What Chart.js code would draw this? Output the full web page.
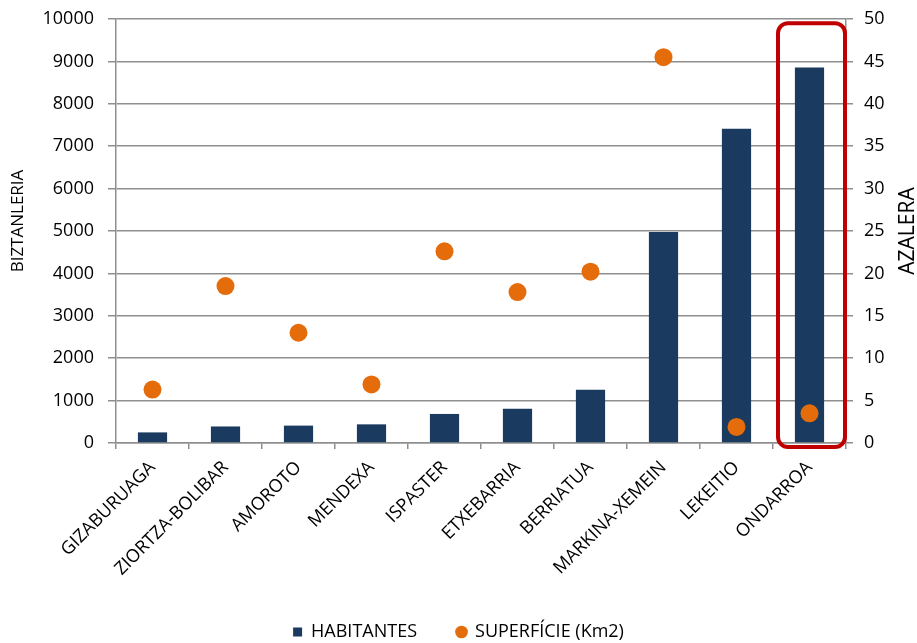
<!DOCTYPE html>
<html>
<head>
<meta charset="utf-8">
<script src="https://cdn.jsdelivr.net/npm/chart.js@4/dist/chart.umd.min.js"></script>
<style>
  html, body { margin: 0; padding: 0; background: #fff; }
  #wrap { width: 917px; height: 643px; position: relative; }
</style>
</head>
<body>
<div id="wrap"><canvas id="myChart"></canvas></div>
<script>
var towns = ['GIZABURUAGA', 'ZIORTZA-BOLIBAR', 'AMOROTO', 'MENDEXA', 'ISPASTER',
             'ETXEBARRIA', 'BERRIATUA', 'MARKINA-XEMEIN', 'LEKEITIO', 'ONDARROA'];
var habitantes = [250, 390, 410, 440, 685, 810, 1257, 4975, 7412, 8858];
var superficie = [6.3, 18.5, 13.0, 6.9, 22.6, 17.8, 20.2, 45.5, 1.9, 3.5];
var highlightTown = 'ONDARROA';

var font = "'Open Sans', sans-serif";
var gridColor = '#8f8f8f';

// rotated axis titles + red frame round the highlighted town
var extras = {
    id: 'extras',
    beforeInit: function(chart) {
        // push the legend lower, closer to the bottom edge
        var fit = chart.legend.fit;
        chart.legend.fit = function() {
            fit.call(this);
            this.height = 60;
        };
    },
    afterDatasetsDraw: function(chart) {
        var ctx = chart.ctx;
        var x = chart.scales.x;
        var y = chart.scales.y;
        var area = chart.chartArea;
        var i = towns.indexOf(highlightTown);
        var half = (x.getPixelForValue(1) - x.getPixelForValue(0)) / 2;
        var left = x.getPixelForValue(i) - half + 5;
        var right = area.right - 1;
        var top = y.getPixelForValue(9900);
        var bottom = area.bottom + 4;
        ctx.save();
        ctx.strokeStyle = '#c00000';
        ctx.lineWidth = 4;
        ctx.beginPath();
        ctx.roundRect(left, top, right - left, bottom - top, 10);
        ctx.stroke();
        ctx.restore();
    },
    afterDraw: function(chart) {
        var ctx = chart.ctx;
        ctx.save();
        ctx.fillStyle = '#000';
        ctx.font = '17px ' + font;
        ctx.textAlign = 'center';
        ctx.textBaseline = 'middle';
        ctx.translate(18, 221);
        ctx.rotate(-Math.PI / 2);
        ctx.fillText('BIZTANLERIA', 0, 0);
        ctx.restore();
        ctx.save();
        ctx.fillStyle = '#000';
        ctx.font = '21px ' + font;
        ctx.textAlign = 'center';
        ctx.textBaseline = 'middle';
        ctx.translate(chart.width - 9, 231);
        ctx.rotate(-Math.PI / 2);
        ctx.fillText('AZALERA', 0, 0);
        ctx.restore();
    }
};

var plain = function(v) { return String(v); };

const ctx = document.getElementById('myChart').getContext('2d');
const myChart = new Chart(ctx, {
    type: 'bar',
    data: {
        labels: towns,
        datasets: [{
            type: 'bar',
            label: 'HABITANTES',
            data: habitantes,
            backgroundColor: '#1b3a5f',
            yAxisID: 'y',
            order: 2,
            pointStyle: 'rect',
            categoryPercentage: 1,
            barPercentage: 0.4
        }, {
            type: 'line',
            label: 'SUPERFÍCIE (Km2)',
            data: superficie,
            showLine: false,
            borderColor: '#e46c0a',
            backgroundColor: '#e46c0a',
            pointRadius: 9,
            pointHoverRadius: 9,
            pointBorderWidth: 0,
            pointStyle: 'circle',
            yAxisID: 'y1',
            order: 1
        }]
    },
    options: {
        responsive: true,
        maintainAspectRatio: false,
        animation: false,
        layout: { padding: { top: 19, right: 0, bottom: 0, left: 0 } },
        plugins: {
            tooltip: { enabled: false },
            legend: {
                position: 'bottom',
                labels: {
                    usePointStyle: true,
                    boxWidth: 9,
                    boxHeight: 9,
                    padding: 40,
                    color: '#000',
                    font: { family: font, size: 18 },
                    sort: function(a, b) { return a.datasetIndex - b.datasetIndex; }
                }
            }
        },
        scales: {
            x: {
                offset: true,
                grid: { drawOnChartArea: false, drawTicks: true, tickLength: 6, color: gridColor, lineWidth: 1.5 },
                border: { color: gridColor, width: 1.5 },
                ticks: { minRotation: 45, maxRotation: 45, color: '#000', padding: 8, font: { family: font, size: 18 } },
                afterFit: function(s) { s.height = 140; }
            },
            y: {
                position: 'left',
                min: 0, max: 10000,
                ticks: { stepSize: 1000, color: '#000', padding: 14, font: { family: font, size: 18 }, callback: plain },
                grid: { color: gridColor, lineWidth: 1.5, tickLength: 8 },
                border: { color: gridColor, width: 1.5 },
                afterFit: function(s) { s.width = 116; s.paddingTop = 0; s.paddingBottom = 0; }
            },
            y1: {
                position: 'right',
                min: 0, max: 50,
                ticks: { stepSize: 5, color: '#000', padding: 11, font: { family: font, size: 18 }, callback: plain },
                grid: { drawOnChartArea: false, color: gridColor, lineWidth: 1.5, tickLength: 7 },
                border: { color: gridColor, width: 1.5 },
                afterFit: function(s) { s.width = 71; s.paddingTop = 0; s.paddingBottom = 0; }
            }
        }
    },
    plugins: [extras]
});
</script>
</body>
</html>
